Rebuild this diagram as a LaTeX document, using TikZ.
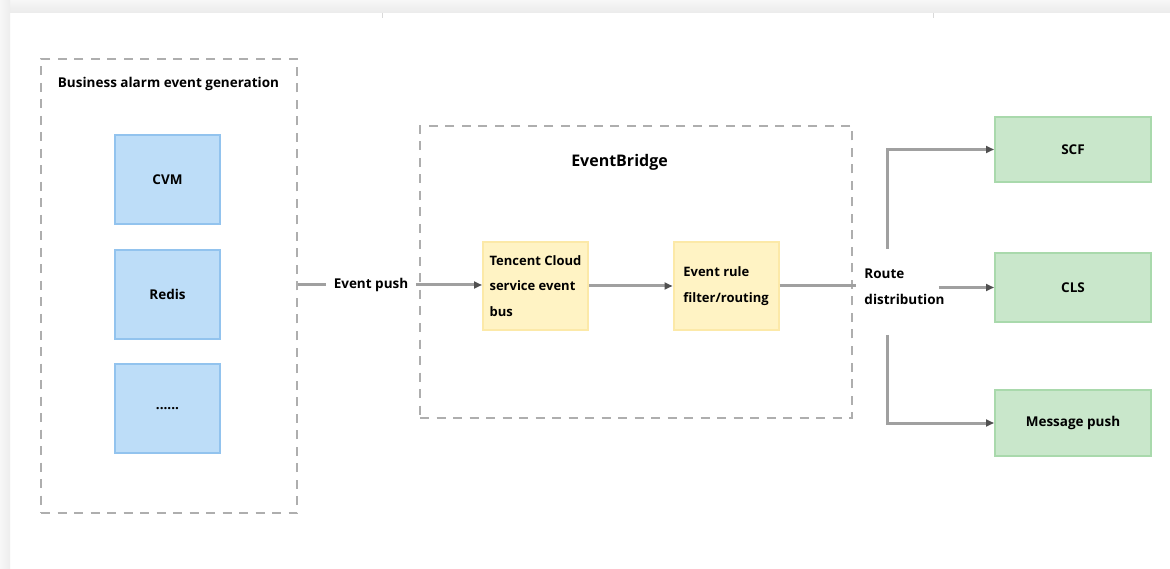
\documentclass[tikz,border=0pt]{standalone}
\usepackage{fontspec}
\setmainfont{Open Sans}
\usetikzlibrary{arrows.meta}
\definecolor{dashgray}{HTML}{AEAEAE}
\definecolor{linegray}{HTML}{A0A0A0}
\definecolor{tipgray}{HTML}{505050}
\definecolor{bluefill}{HTML}{BDDDF8}
\definecolor{blueline}{HTML}{92C3EE}
\definecolor{yelfill}{HTML}{FFF3C4}
\definecolor{yelline}{HTML}{FCE9A8}
\definecolor{grnfill}{HTML}{C9E7CB}
\definecolor{grnline}{HTML}{A9D9AC}
\begin{document}
\begin{tikzpicture}[x=1pt,y=-1pt,
  txt/.style={font=\bfseries\fontsize{13.5}{26}\selectfont, text=black},
  group/.style={draw=dashgray, line width=2.8pt, dash pattern=on 9pt off 7.5pt, inner sep=0pt},
  srcbox/.style={txt, draw=blueline, fill=bluefill, line width=2pt, minimum width=105pt, minimum height=89pt, inner sep=0pt},
  busbox/.style={txt, font=\bfseries\fontsize{13}{25.5}\selectfont, draw=yelline, fill=yelfill, line width=2pt, minimum width=105pt, minimum height=88pt, inner sep=0pt, align=left},
  dstbox/.style={txt, draw=grnline, fill=grnfill, line width=2pt, minimum width=156pt, inner sep=0pt},
  conn/.style={draw=linegray, line width=3pt},
  arr/.style={conn, -{Triangle[length=8pt,width=7pt,color=tipgray]}},
  lbl/.style={txt, inner xsep=8pt, inner ysep=2pt, align=left}
]
\useasboundingbox (0,0) rectangle (1170,569);
% background frame
\fill[white] (0,0) rectangle (1170,569);
\shade[top color=gray!6, bottom color=gray!16] (0,0) rectangle (1170,13);
\shade[left color=gray!6, right color=gray!14] (0,0) rectangle (10,569);
\draw[gray!30, line width=0.8pt] (382,13) -- (382,18);
\draw[gray!30, line width=0.8pt] (933,13) -- (933,18);

% left group
\node[group, minimum width=256pt, minimum height=454pt] (gen) at (169,286) {};
\node[txt] (gentitle) at (168.5,84) {Business alarm event generation};
\node[srcbox] (cvm) at (167.5,179.5) {CVM};
\node[srcbox] (redis) at (167.5,294.5) {Redis};
\node[srcbox] (more) at (167.5,408.5) {......};

% EventBridge group
\node[group, minimum width=432pt, minimum height=292pt] (eb) at (636,272) {};
\node[txt, font=\bfseries\fontsize{16}{20}\selectfont] (ebtitle) at (619.5,162) {EventBridge};
\node[busbox] (bus) at (535.5,286) {Tencent Cloud\\service event\\bus};
\node[busbox] (rule) at (726,286) {Event rule\\filter/routing};

% right targets
\node[dstbox, minimum height=65pt] (scf) at (1073,149.5) {SCF};
\node[dstbox, minimum height=69pt] (cls) at (1073,287.5) {CLS};
\node[dstbox, minimum height=66pt] (msg) at (1073,423) {Message push};

% labels on connectors
\node[lbl] (push) at (371,285) {Event push};
\node[txt, align=left, inner sep=0pt] (route) at (904.5,287) {Route\\distribution};
\coordinate (rt) at (887,249);
\coordinate (rb) at (887,335);

% connectors
\draw[conn] (gen.east |- push.west) -- (push.west);
\draw[arr] (push.east) -- (bus.west |- push.east);
\draw[arr] (bus.east) -- (rule.west);
\draw[conn] (rule.east) -- ([xshift=-8pt]route.west |- rule.east);
\draw[arr] ([xshift=-6pt]route.east |- cls.west) -- (cls.west);
\draw[arr] (rt) |- (scf.west);
\draw[arr] (rb) |- (msg.west);
\end{tikzpicture}
\end{document}
